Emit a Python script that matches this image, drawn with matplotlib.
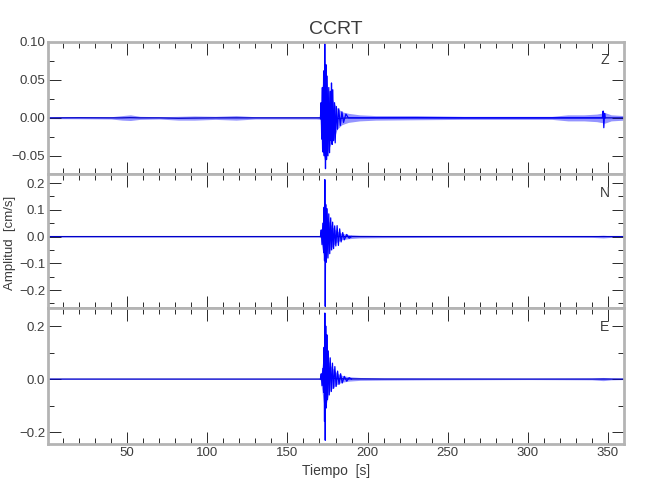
import numpy as np
import matplotlib
matplotlib.use("Agg")
import matplotlib.pyplot as plt
from matplotlib.ticker import MultipleLocator, FixedLocator

plt.rcParams['font.family'] = ['Liberation Sans', 'DejaVu Sans']

# --- envelope of the background noise / coda (time, upper, lower) ---
z_env_t = [0, 20, 40, 47, 52, 58, 70, 82, 92, 105, 118, 130, 150, 168, 170.5, 171.2, 173, 175, 177, 179, 181, 184,
           188, 195, 205, 230, 260, 290, 315, 325, 335, 343, 348, 352, 360]
z_env_hi = [0.001, 0.0015, 0.0015, 0.003, 0.004, 0.002, 0.0015, 0.002, 0.0025, 0.002, 0.003, 0.0015, 0.0015, 0.0015,
            0.002, 0.035, 0.06, 0.04, 0.03, 0.02, 0.013, 0.008, 0.006, 0.004, 0.003, 0.003, 0.002, 0.002, 0.002,
            0.004, 0.004, 0.005, 0.007, 0.004, 0.003]
z_env_lo = [-0.001, -0.0012, -0.0015, -0.003, -0.0035, -0.002, -0.0015, -0.003, -0.003, -0.002, -0.003, -0.0015,
            -0.0015, -0.0015, -0.002, -0.04, -0.055, -0.045, -0.035, -0.028, -0.015, -0.009, -0.006, -0.004, -0.003,
            -0.0025, -0.002, -0.002, -0.002, -0.004, -0.004, -0.005, -0.007, -0.004, -0.003]

n_env_t = [0, 60, 120, 170, 170.5, 171.2, 172.5, 174, 175.5, 177, 179, 181, 184, 188, 195, 210, 240, 300, 340, 347,
           352, 360]
n_env_hi = [0.0015, 0.0015, 0.0015, 0.0015, 0.003, 0.03, 0.08, 0.09, 0.06, 0.045, 0.03, 0.02, 0.012, 0.008, 0.005,
            0.004, 0.003, 0.002, 0.003, 0.005, 0.003, 0.002]
n_env_lo = [-0.0015, -0.0015, -0.0015, -0.0015, -0.003, -0.03, -0.07, -0.09, -0.06, -0.045, -0.03, -0.02, -0.012,
            -0.008, -0.005, -0.004, -0.003, -0.002, -0.003, -0.005, -0.003, -0.002]

e_env_t = [0, 60, 120, 170, 170.5, 171.2, 172.5, 174, 175.5, 177, 179, 181, 184, 188, 195, 210, 240, 300, 340, 347,
           352, 360]
e_env_hi = [0.0015, 0.0015, 0.0015, 0.0015, 0.003, 0.03, 0.09, 0.1, 0.07, 0.05, 0.035, 0.022, 0.014, 0.009, 0.006,
            0.004, 0.003, 0.002, 0.003, 0.006, 0.003, 0.002]
e_env_lo = [-0.0015, -0.0015, -0.0015, -0.0015, -0.003, -0.03, -0.09, -0.1, -0.06, -0.04, -0.03, -0.02, -0.012,
            -0.008, -0.005, -0.004, -0.003, -0.002, -0.003, -0.006, -0.003, -0.002]

# --- individual swings (time, amplitude) ---
z_spk_t = [170.6, 171.0, 171.4, 171.8, 172.2, 172.6, 173.0, 173.3, 173.75, 174.1, 174.4, 174.8, 175.3, 175.8, 176.3,
           176.8, 177.2, 177.5, 177.9, 178.3, 178.8, 179.4, 179.8, 180.5, 181.2, 182, 183, 184, 185, 186.5, 188,
           346.5, 347.0, 347.4, 347.9, 348.3]
z_spk_v = [0.0, 0.02, -0.028, 0.04, -0.045, 0.062, -0.05, 0.098, -0.067, 0.07, -0.055, 0.055, -0.05, 0.04, -0.046,
           0.035, -0.03, 0.046, -0.035, 0.037, -0.03, 0.02, -0.033, 0.015, -0.015, 0.012, -0.01, 0.008, -0.006,
           0.005, 0.0, 0.0, 0.009, -0.013, 0.006, 0.0]

n_spk_t = [170.6, 171.1, 171.6, 172.1, 172.6, 172.9, 173.15, 173.35, 173.6, 173.9, 174.3, 174.8, 175.3, 175.8,
           176.4, 177.0, 177.6, 178.2, 178.8, 179.5, 180.2, 181, 181.8, 182.6, 183.5, 184.5, 185.5, 187, 188.5, 190]
n_spk_v = [0.0, 0.025, -0.03, 0.05, -0.06, 0.11, -0.09, 0.213, -0.261, 0.12, -0.096, 0.104, -0.08, 0.085, -0.064,
           0.07, -0.05, 0.054, -0.045, 0.04, -0.035, 0.041, -0.033, 0.029, -0.02, 0.015, -0.012, 0.008, -0.006, 0.0]

e_spk_t = [170.6, 171.1, 171.6, 172.1, 172.6, 172.9, 173.15, 173.35, 173.6, 173.9, 174.3, 174.6, 175.0, 175.5,
           176.1, 176.7, 177.4, 178.1, 178.8, 179.6, 180.4, 181.3, 182.2, 183.2, 184.2, 185.5, 187, 188.5, 190]
e_spk_v = [0.0, 0.02, -0.025, 0.04, -0.05, 0.12, -0.16, 0.249, -0.231, 0.2, -0.109, 0.167, -0.078, 0.106, -0.06,
           0.08, -0.047, 0.06, -0.035, 0.047, -0.028, 0.03, -0.02, 0.02, -0.015, 0.01, -0.008, 0.005, 0.0]

comps = ['Z', 'N', 'E']
ylims = [(-0.074, 0.10), (-0.267, 0.234), (-0.245, 0.268)]
ymaj = [[-0.05, 0.0, 0.05, 0.10], [-0.2, -0.1, 0.0, 0.1, 0.2], [-0.2, 0.0, 0.2]]
ylab = [['\u22120.05', '0.00', '0.05', '0.10'], ['\u22120.2', '\u22120.1', '0.0', '0.1', '0.2'],
        ['\u22120.2', '0.0', '0.2']]
ymin = [0.025, 0.05, 0.1]
envs = [(z_env_t, z_env_hi, z_env_lo), (n_env_t, n_env_hi, n_env_lo), (e_env_t, e_env_hi, e_env_lo)]
spks = [(z_spk_t, z_spk_v), (n_spk_t, n_spk_v), (e_spk_t, e_spk_v)]

frame_c = '#b4b4b4'
tick_c = '#2a2a2a'
text_c = '#3c3c3c'

fig = plt.figure(figsize=(6.5, 5), dpi=100)
boxes = [(0.652, 0.264), (0.384, 0.268), (0.112, 0.272)]

for i in range(3):
    b, h = boxes[i]
    ax = fig.add_axes([0.0738, b, 0.8862, h])
    t, hi, lo = envs[i]
    t = np.array(t)
    hi = np.array(hi)
    lo = np.array(lo)
    ax.fill_between(t, lo, hi, color='#3c3cff', alpha=0.55, lw=0)
    ax.plot(t, (hi + lo) / 2, color='#0000c8', lw=0.9)
    st, sv = spks[i]
    ax.plot(st, sv, color='#0000ff', lw=0.9)
    ax.set_xlim(0.6, 360)
    ax.set_ylim(*ylims[i])
    ax.xaxis.set_major_locator(MultipleLocator(50))
    ax.xaxis.set_minor_locator(MultipleLocator(10))
    ax.yaxis.set_major_locator(FixedLocator(ymaj[i]))
    ax.set_yticklabels(ylab[i])
    ax.yaxis.set_minor_locator(MultipleLocator(ymin[i]))
    ax.tick_params(which='both', direction='in', top=True, right=True, colors=tick_c,
                   labelcolor=text_c, labelsize=9.5, width=0.7, pad=2)
    ax.tick_params(which='major', length=9)
    ax.tick_params(which='minor', length=4.5)
    for s in ax.spines.values():
        s.set_color(frame_c)
        s.set_linewidth(2)
    if i < 2:
        ax.tick_params(labelbottom=False)
    else:
        ax.set_xlabel('Tiempo  [s]', color=text_c, fontsize=10, labelpad=4)
    ax.text(0.966, 0.86, comps[i], transform=ax.transAxes, ha='center', va='center', color=text_c, fontsize=10)
    if i == 0:
        ax.set_title('CCRT', color=text_c, fontsize=14, pad=6)

fig.text(10 / 650, 1 - 243 / 500, 'Amplitud  [cm/s]', rotation=90, ha='center', va='center',
         color=text_c, fontsize=9.5)

fig.savefig('out.png', dpi=100)
